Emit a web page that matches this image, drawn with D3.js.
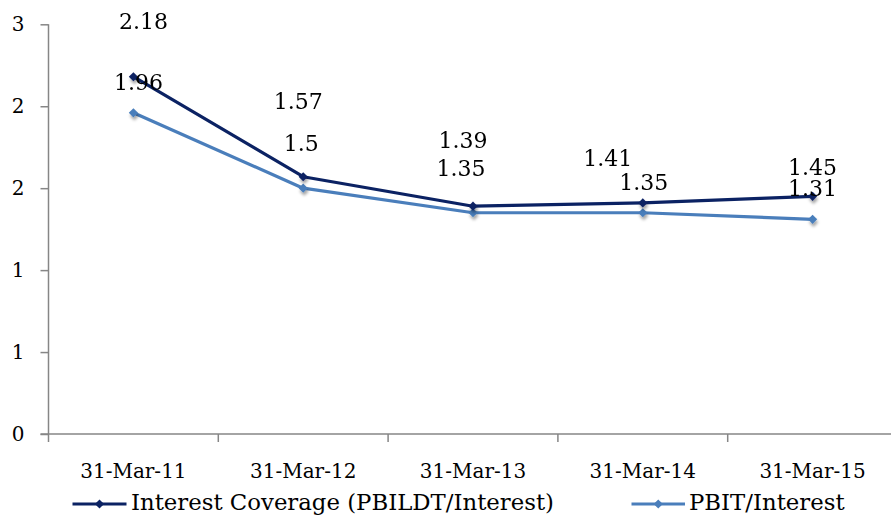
<!DOCTYPE html>
<html>
<head>
<meta charset="utf-8">
<script src="https://cdn.jsdelivr.net/npm/d3@7"></script>
<style>
  html, body { margin: 0; padding: 0; background: #ffffff; }
  svg { display: block; }
  svg text { font-family: "DejaVu Serif", "Liberation Serif", serif; }
</style>
</head>
<body>
<svg id="chart" width="891" height="521"></svg>
<script>
// Fiscal year-end dates
const categories = ["31-Mar-11", "31-Mar-12", "31-Mar-13", "31-Mar-14", "31-Mar-15"];

// Coverage ratios
const interestCoverage = [2.18, 1.57, 1.39, 1.41, 1.45];
const pbitInterest = [1.96, 1.5, 1.35, 1.35, 1.31];

const seriesNames = ["Interest Coverage (PBILDT/Interest)", "PBIT/Interest"];

// Value axis: half-unit steps, labels rounded to whole numbers
const yTickValues = [0, 0.5, 1, 1.5, 2, 2.5];
const yTickLabels = ["0", "1", "1", "2", "2", "3"];

// Hand-placed data label nudges (px) so labels don't collide
const labelNudgeDark = [[10, -56], [-5, -76], [-10, -66], [-35, -45], [0, -29]];
const labelNudgeLight = [[5, -31], [-2, -45], [-12, -45], [1, -31], [0, -31]];

const colors = ["#0b2263", "#4a7ebb"];
const axisColor = "#868686";
const FONT = "DejaVu Serif, Liberation Serif, serif";

const svg = d3.select("#chart");

const x = d3.scaleBand().domain(categories).range([48.5, 897.5]).padding(0);
const y = d3.scaleLinear().domain([0, 2.5]).range([434, 24.3]);
const cx = d => x(d) + x.bandwidth() / 2;

// Soft shadow under the markers
const defs = svg.append("defs");
const f = defs.append("filter").attr("id", "mshadow")
  .attr("x", "-100%").attr("y", "-100%").attr("width", "300%").attr("height", "300%");
f.append("feDropShadow").attr("dx", 1).attr("dy", 3).attr("stdDeviation", 1.6)
  .attr("flood-color", "#000").attr("flood-opacity", 0.35);

// Y axis
const yAxis = d3.axisLeft(y)
  .tickValues(yTickValues)
  .tickFormat((d, i) => yTickLabels[i])
  .tickSize(8)
  .tickPadding(16);
const gy = svg.append("g").attr("transform", "translate(48.5,0)").call(yAxis)
  .attr("font-family", FONT);
gy.select(".domain").attr("stroke", axisColor).attr("stroke-width", 1.5)
  .attr("d", `M0,${y(0)}V${y(2.5)}`);
gy.selectAll(".tick line").attr("stroke", axisColor).attr("stroke-width", 1.5);
gy.selectAll(".tick text").attr("font-size", 20).attr("fill", "#000");

// X axis: ticks at category boundaries, labels at band centres
const gx = svg.append("g").attr("transform", `translate(0,${y(0)})`);
gx.append("line").attr("x1", 40.5).attr("x2", 891).attr("y1", 0).attr("y2", 0)
  .attr("stroke", axisColor).attr("stroke-width", 1.5);
const bounds = categories.map(c => x(c)).concat([x.range()[1]]);
gx.selectAll("line.tk").data(bounds).join("line").attr("class", "tk")
  .attr("x1", d => d).attr("x2", d => d).attr("y1", 0).attr("y2", 8)
  .attr("stroke", axisColor).attr("stroke-width", 1.5);
gx.selectAll("text").data(categories).join("text")
  .attr("x", d => cx(d)).attr("y", 44)
  .attr("text-anchor", "middle").attr("font-size", 20).attr("fill", "#000")
  .text(d => d);

// Series
const series = [
  { name: seriesNames[0], values: interestCoverage, color: colors[0], nudge: labelNudgeDark },
  { name: seriesNames[1], values: pbitInterest, color: colors[1], nudge: labelNudgeLight }
];

const line = d3.line().x((d, i) => cx(categories[i])).y(d => y(d));
const diamond = d3.symbol(d3.symbolSquare, 42);

// Draw the lighter series first so the darker one sits on top
[...series].reverse().forEach(s => {
  const g = svg.append("g");
  g.append("path").attr("d", line(s.values))
    .attr("fill", "none").attr("stroke", s.color).attr("stroke-width", 3.2)
    .attr("stroke-linejoin", "round");
  g.append("g").attr("filter", "url(#mshadow)")
    .selectAll("path").data(s.values).join("path")
    .attr("d", diamond)
    .attr("transform", (d, i) => `translate(${cx(categories[i])},${y(d)}) rotate(45)`)
    .attr("fill", s.color);
});

// Data labels
series.forEach(s => {
  svg.append("g").selectAll("text").data(s.values).join("text")
    .attr("x", (d, i) => cx(categories[i]) + s.nudge[i][0])
    .attr("y", (d, i) => y(d) + s.nudge[i][1])
    .attr("dy", "0.36em")
    .attr("text-anchor", "middle").attr("font-size", 22).attr("fill", "#000")
    .text(d => d);
});

// Legend
const legendItems = [
  { name: seriesNames[0], color: colors[0], x0: 72.5, x1: 126.5, tx: 131 },
  { name: seriesNames[1], color: colors[1], x0: 631.5, x1: 685, tx: 689 }
];
const lg = svg.append("g").attr("transform", "translate(0,504)");
legendItems.forEach(it => {
  lg.append("line").attr("x1", it.x0).attr("x2", it.x1).attr("y1", 0).attr("y2", 0)
    .attr("stroke", it.color).attr("stroke-width", 3.2);
  lg.append("path").attr("d", diamond)
    .attr("transform", `translate(${(it.x0 + it.x1) / 2},0) rotate(45)`)
    .attr("fill", it.color);
  lg.append("text").attr("x", it.tx).attr("y", 6)
    .attr("font-size", 22.8).attr("fill", "#000").text(it.name);
});
</script>
</body>
</html>
